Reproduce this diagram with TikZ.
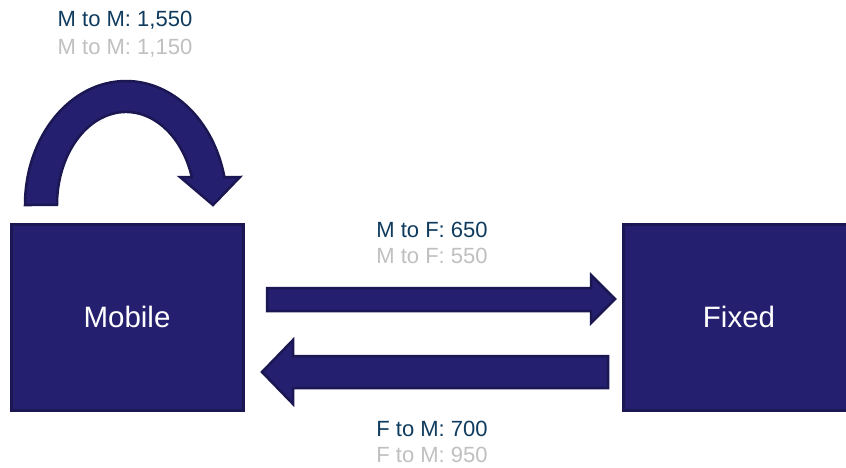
\documentclass[tikz,border=0pt]{standalone}
\usepackage{fontspec}
\setmainfont{Liberation Sans}
\definecolor{boxfill}{RGB}{36,32,111}
\definecolor{boxline}{RGB}{26,23,82}
\definecolor{valdark}{RGB}{15,59,94}
\definecolor{valgray}{RGB}{192,192,192}
\tikzset{
  bigbox/.style={draw=boxline, fill=boxfill, line width=3pt, minimum width=232pt, minimum height=186pt, text=white, font=\fontsize{29.5}{34}\selectfont, inner sep=0pt},
  blockarrow/.style={draw=boxline, fill=boxfill, line width=2.5pt, line join=miter},
  valnow/.style={text=valdark, font=\fontsize{22}{26}\selectfont, anchor=base, inner sep=0pt},
  valold/.style={text=valgray, font=\fontsize{22}{26}\selectfont, anchor=base, inner sep=0pt}
}
\begin{document}
\begin{tikzpicture}[x=1pt,y=1pt]
\clip (0,0) rectangle (846,-467);
\fill[white] (0,0) rectangle (846,-467);
\node[bigbox] (mobile) at (127,-317) {Mobile};
\node[bigbox] (fixed) at (739,-317) {Fixed};
% self loop arrow
\draw[blockarrow] (25,-205) arc[start angle=180, end angle=13, x radius=101, y radius=124]
  -- (240,-177) -- (213,-205) -- (180,-177) -- (191.8,-177)
  arc[start angle=17.5, end angle=180, x radius=69, y radius=93] -- cycle;
% M to F arrow
\draw[blockarrow] (267,-288) -- (591,-288) -- (591,-275) -- (615,-299) -- (591,-323) -- (591,-311) -- (267,-311) -- cycle;
% F to M arrow
\draw[blockarrow] (608,-356) -- (293,-356) -- (293,-340) -- (262,-372) -- (293,-404) -- (293,-388) -- (608,-388) -- cycle;
% labels
\node[valnow] (mm1) at (125,-26) {M to M: 1,550};
\node[valold] (mm2) at (125,-54) {M to M: 1,150};
\node[valnow] (mf1) at (432,-237) {M to F: 650};
\node[valold] (mf2) at (432,-263) {M to F: 550};
\node[valnow] (fm1) at (432,-436) {F to M: 700};
\node[valold] (fm2) at (432,-462) {F to M: 950};
\end{tikzpicture}
\end{document}
